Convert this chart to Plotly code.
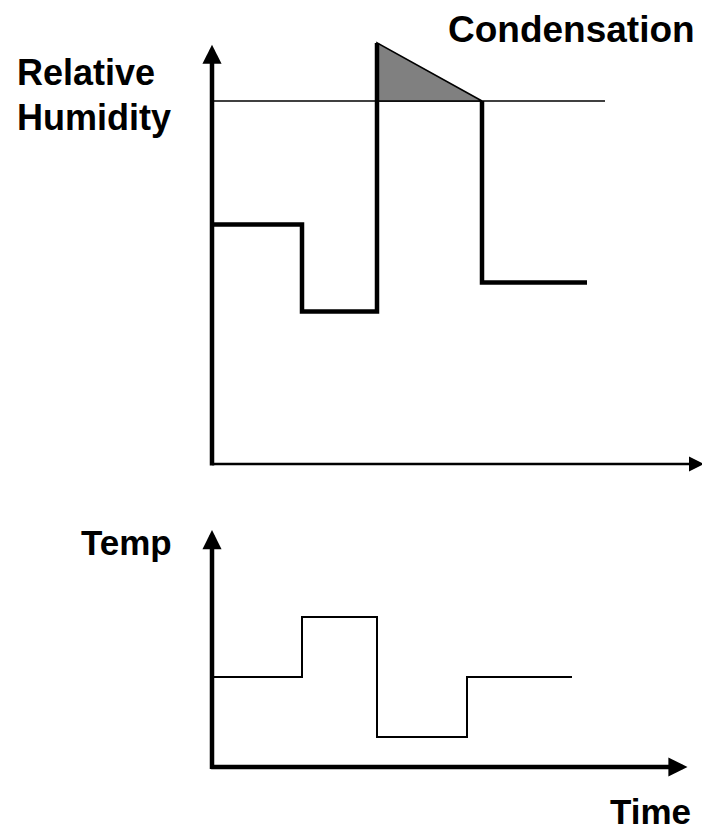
import plotly.graph_objects as go

# ---------------- data ----------------
# Relative humidity (percent) over time (arbitrary hours)
RH_TIME = [0, 3, 5.5, 9, 12.5]          # breakpoints
RH_LEVELS = [66, 42]                     # levels on [0,3] and [3,5.5]
RH_PEAK = 116                            # supersaturated peak at t=5.5
RH_SAT = 100                             # saturation (condensation) threshold
RH_AFTER = 50                            # level on [9,12.5]
SAT_LINE_END = 13.1                      # extent of the threshold line

# Temperature over time
TEMP_TIME = [0, 3, 5.5, 8.5, 12]
TEMP_VALUES = [30, 50, 10, 30, 30]

# labels
LBL_RH = ["Relative", "Humidity"]
LBL_COND = "Condensation"
LBL_TEMP = "Temp"
LBL_TIME = "Time"

# ---------------- layout geometry ----------------
W, H = 702, 832
X0_PX, PX_PER_T = 212, 30.0
TOP_DOM_PX = (0, 490)
TOP_Y0_PX, PX_PER_RH = 464, 3.63
BOT_DOM_PX = (500, 832)
BOT_Y0_PX, PX_PER_TEMP = 767, 3.0

x_range = [-X0_PX / PX_PER_T, (W - X0_PX) / PX_PER_T]
top_dom = [1 - TOP_DOM_PX[1] / H, 1 - TOP_DOM_PX[0] / H]
top_range = [-(TOP_DOM_PX[1] - TOP_Y0_PX) / PX_PER_RH, (TOP_Y0_PX - TOP_DOM_PX[0]) / PX_PER_RH]
bot_dom = [1 - BOT_DOM_PX[1] / H, 1 - BOT_DOM_PX[0] / H]
bot_range = [-(BOT_DOM_PX[1] - BOT_Y0_PX) / PX_PER_TEMP, (BOT_Y0_PX - BOT_DOM_PX[0]) / PX_PER_TEMP]

BLACK = "#000000"
FONT = "Liberation Sans, Arial, Helvetica, sans-serif"

fig = go.Figure()

# saturation threshold line
fig.add_trace(go.Scatter(x=[RH_TIME[0], SAT_LINE_END], y=[RH_SAT, RH_SAT], mode="lines",
                         line=dict(color=BLACK, width=1.6), xaxis="x", yaxis="y",
                         hoverinfo="skip"))

# condensation triangle
t_up, t_down = RH_TIME[2], RH_TIME[3]
fig.add_trace(go.Scatter(x=[t_up, t_up, t_down, t_up], y=[RH_SAT, RH_PEAK, RH_SAT, RH_SAT],
                         mode="lines", fill="toself", fillcolor="#808080",
                         line=dict(color=BLACK, width=1.6), xaxis="x", yaxis="y",
                         hoverinfo="skip"))

# RH thick step line: part before condensation
rh_x1 = [RH_TIME[0], RH_TIME[1], RH_TIME[1], RH_TIME[2], RH_TIME[2]]
rh_y1 = [RH_LEVELS[0], RH_LEVELS[0], RH_LEVELS[1], RH_LEVELS[1], RH_PEAK]
fig.add_trace(go.Scatter(x=rh_x1, y=rh_y1, mode="lines",
                         line=dict(color=BLACK, width=4.5), xaxis="x", yaxis="y",
                         hoverinfo="skip"))
# part after condensation
rh_x2 = [RH_TIME[3], RH_TIME[3], RH_TIME[4]]
rh_y2 = [RH_SAT, RH_AFTER, RH_AFTER]
fig.add_trace(go.Scatter(x=rh_x2, y=rh_y2, mode="lines",
                         line=dict(color=BLACK, width=4.5), xaxis="x", yaxis="y",
                         hoverinfo="skip"))

# temperature step line
fig.add_trace(go.Scatter(x=TEMP_TIME, y=TEMP_VALUES, mode="lines", line_shape="hv",
                         line=dict(color=BLACK, width=2), xaxis="x2", yaxis="y2",
                         hoverinfo="skip"))

# ---------------- axis arrows ----------------
def arrow(x, y, ax, ay, xr, yr, width, size):
    return dict(x=x, y=y, ax=ax, ay=ay, xref=xr, yref=yr, axref=xr, ayref=yr,
                text="", showarrow=True, arrowhead=2, arrowwidth=width,
                arrowsize=size, arrowcolor=BLACK, standoff=0, startstandoff=0,
                font=dict(size=1))

annotations = [
    # top panel
    arrow(0, 115.5, 0, -0.8, "x", "y", 4.5, 0.85),
    arrow(16.4, 0, -0.05, 0, "x", "y", 2.5, 1.2),
    # bottom panel
    arrow(0, 79, 0, -1.2, "x2", "y2", 4.5, 0.85),
    arrow(15.85, 0, -0.08, 0, "x2", "y2", 4.5, 0.85),
]

def label(text, x_px, y_px, size, yanchor="middle"):
    return dict(text="<b>%s</b>" % text, x=x_px / W, y=1 - y_px / H, xref="paper",
                yref="paper", xanchor="left", yanchor=yanchor, showarrow=False,
                borderpad=0, font=dict(family=FONT, size=size, color=BLACK))

annotations += [
    label(LBL_RH[0], 16, 73, 36),
    label(LBL_RH[1], 16, 117, 36),
    label(LBL_COND, 447, 29, 37),
    label(LBL_TEMP, 80, 542, 35),
    label(LBL_TIME, 609, H, 35, yanchor="bottom"),
]

axis_common = dict(visible=False, showgrid=False, zeroline=False, fixedrange=True)
fig.update_layout(
    width=W, height=H,
    margin=dict(l=0, r=0, t=0, b=0),
    paper_bgcolor="white", plot_bgcolor="rgba(0,0,0,0)",
    showlegend=False,
    xaxis=dict(domain=[0, 1], range=x_range, anchor="y", **axis_common),
    yaxis=dict(domain=top_dom, range=top_range, anchor="x", **axis_common),
    xaxis2=dict(domain=[0, 1], range=x_range, anchor="y2", **axis_common),
    yaxis2=dict(domain=bot_dom, range=bot_range, anchor="x2", **axis_common),
    annotations=annotations,
)

fig.write_html("out.html", config={"displayModeBar": False},
               post_script="document.body.style.margin='0';document.body.style.overflow='hidden';")
